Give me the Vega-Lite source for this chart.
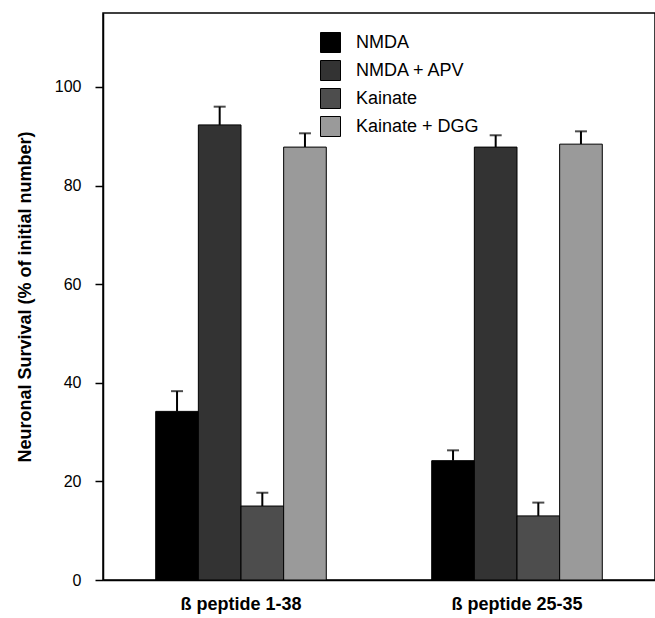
{
  "$schema": "https://vega.github.io/schema/vega-lite/v6.json",
  "autosize": {"type": "none"},
  "width": 552,
  "height": 567,
  "padding": {"left": 103, "top": 13, "right": 0, "bottom": 38},
  "background": "white",
  "config": {
    "font": "Liberation Sans",
    "view": {"stroke": "black", "strokeWidth": 1.5}
  },
  "data": {
    "values": [
      {"group": "ß peptide 1-38", "treatment": "NMDA", "value": 34.2, "upper": 38.3},
      {"group": "ß peptide 1-38", "treatment": "NMDA + APV", "value": 92.3, "upper": 96.0},
      {"group": "ß peptide 1-38", "treatment": "Kainate", "value": 15.0, "upper": 17.7},
      {"group": "ß peptide 1-38", "treatment": "Kainate + DGG", "value": 87.8, "upper": 90.6},
      {"group": "ß peptide 25-35", "treatment": "NMDA", "value": 24.2, "upper": 26.3},
      {"group": "ß peptide 25-35", "treatment": "NMDA + APV", "value": 87.8, "upper": 90.2},
      {"group": "ß peptide 25-35", "treatment": "Kainate", "value": 13.0, "upper": 15.7},
      {"group": "ß peptide 25-35", "treatment": "Kainate + DGG", "value": 88.4, "upper": 91.0}
    ]
  },
  "encoding": {
    "x": {
      "field": "group", "type": "nominal",
      "scale": {"paddingInner": 0.382, "paddingOuter": 0.191},
      "axis": {"title": null, "labelAngle": 0, "labelFontSize": 18, "labelFontWeight": "bold", "labelColor": "black", "labelPadding": 15, "ticks": false, "domainColor": "black", "domainWidth": 1.5}
    },
    "xOffset": {
      "field": "treatment", "type": "nominal",
      "sort": ["NMDA", "NMDA + APV", "Kainate", "Kainate + DGG"],
      "scale": {"paddingInner": 0, "paddingOuter": 0}
    }
  },
  "layer": [
    {
      "mark": {"type": "rule", "color": "black", "strokeWidth": 2},
      "encoding": {
        "y": {"field": "value", "type": "quantitative"},
        "y2": {"field": "upper"}
      }
    },
    {
      "mark": {"type": "tick", "color": "black", "thickness": 2, "size": 12},
      "encoding": {
        "y": {"field": "upper", "type": "quantitative"}
      }
    },
    {
      "mark": {"type": "bar", "stroke": "black", "strokeWidth": 1},
      "encoding": {
        "y": {
          "field": "value", "type": "quantitative",
          "scale": {"domain": [0, 115], "nice": false},
          "axis": {
            "title": "Neuronal Survival (% of initial number)",
            "titleFontSize": 18, "titleFontWeight": "bold", "titleColor": "black", "titlePadding": 20,
            "values": [0, 20, 40, 60, 80, 100],
            "labelFontSize": 16, "labelColor": "black", "labelPadding": 14,
            "tickColor": "black", "tickSize": 8, "tickWidth": 1.5,
            "domainColor": "black", "domainWidth": 1.5, "grid": false
          }
        },
        "fill": {
          "field": "treatment", "type": "nominal",
          "sort": ["NMDA", "NMDA + APV", "Kainate", "Kainate + DGG"],
          "scale": {"domain": ["NMDA", "NMDA + APV", "Kainate", "Kainate + DGG"], "range": ["#000000", "#333333", "#4d4d4d", "#9a9a9a"]},
          "legend": {
            "title": null, "orient": "none", "legendX": 217, "legendY": 19,
            "symbolType": "square", "symbolSize": 400, "symbolStrokeColor": "black", "symbolStrokeWidth": 1,
            "labelFontSize": 18, "labelColor": "black", "labelOffset": 15, "rowPadding": 3
          }
        }
      }
    }
  ]
}
